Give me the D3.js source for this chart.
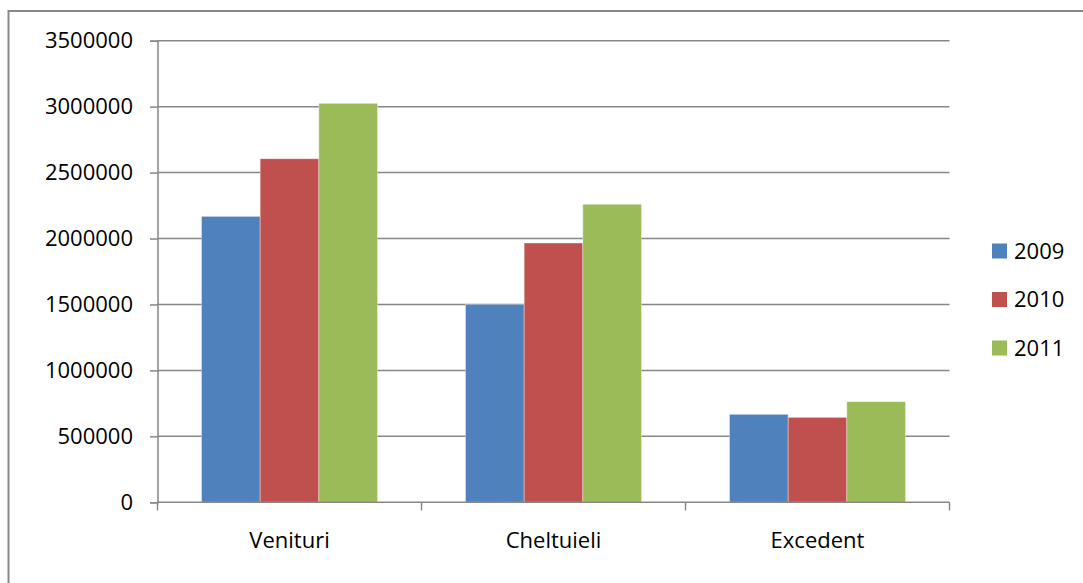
<!DOCTYPE html>
<html>
<head>
<meta charset="utf-8">
<script src="https://cdn.jsdelivr.net/npm/d3@7"></script>
<style>
    body { margin: 0; background: #fff; }
    text { font-family: 'Open Sans', sans-serif; font-size: 22px; fill: #000; }
</style>
</head>
<body>
<div class="chart-div"></div>
<script>
// date din grafic
const categories = ['Venituri', 'Cheltuieli', 'Excedent'];
const years = ['2009', '2010', '2011'];
const values2009 = [2168000, 1501000, 667000];
const values2010 = [2605000, 1966000, 644000];
const values2011 = [3025000, 2260000, 763000];
const yTicks = [0, 500000, 1000000, 1500000, 2000000, 2500000, 3000000, 3500000];
const colors = ['#4F81BD', '#C0504D', '#9BBB59'];

const chart = () => {

    let width = 1083, height = 583;
    let margin = {top: 40.7, right: 133.5, bottom: 80.7, left: 157.5};

    let svg = d3.select('.chart-div').append('svg')
        .attr('width', width)
        .attr('height', height);

    // chenar exterior (doar stanga si sus se vad)
    svg.append('path')
        .attr('d', 'M8.5,' + height + 'V11H' + width)
        .attr('fill', 'none')
        .attr('stroke', '#878787')
        .attr('stroke-width', 2);

    let series = [values2009, values2010, values2011];
    let data = categories.map((c, i) => ({
        category: c,
        values: years.map((y, j) => ({year: y, value: series[j][i], color: colors[j]}))
    }));

    let x0 = d3.scaleBand()
        .domain(categories)
        .range([margin.left, width - margin.right])
        .padding(0);

    let x1 = d3.scaleBand()
        .domain(years)
        .range([0, x0.bandwidth()])
        .paddingInner(0)
        .paddingOuter(0.75);

    let y = d3.scaleLinear()
        .domain([0, 3500000])
        .range([height - margin.bottom, margin.top]);

    // linii de grila
    svg.append('g')
        .selectAll('line')
        .data(yTicks.slice(1))
        .enter().append('line')
        .attr('x1', margin.left)
        .attr('x2', width - margin.right)
        .attr('y1', d => y(d))
        .attr('y2', d => y(d))
        .attr('stroke', '#878787')
        .attr('stroke-width', 1.5);

    // bare
    let groups = svg.selectAll('g.group')
        .data(data)
        .enter().append('g')
        .attr('class', 'group')
        .attr('transform', d => 'translate(' + x0(d.category) + ',0)');

    groups.selectAll('rect')
        .data(d => d.values)
        .enter().append('rect')
        .attr('x', d => x1(d.year))
        .attr('y', d => y(d.value))
        .attr('width', x1.bandwidth())
        .attr('height', d => y(0) - y(d.value))
        .attr('fill', d => d.color)
        .attr('stroke', 'rgba(255,255,255,0.45)')
        .attr('stroke-width', 0.8);

    // axa y
    let yAxis = svg.append('g')
        .attr('transform', 'translate(' + margin.left + ',0)')
        .call(d3.axisLeft(y).tickValues(yTicks).tickSize(7.5).tickPadding(17).tickFormat(d3.format('d')));
    yAxis.select('.domain').attr('stroke', '#878787').attr('stroke-width', 1.5);
    yAxis.selectAll('.tick line').attr('stroke', '#878787').attr('stroke-width', 1.5);
    yAxis.selectAll('.tick text')
        .style('font-family', 'Open Sans, sans-serif')
        .style('font-size', '22px')
        .attr('fill', '#000');

    // axa x
    let xAxis = svg.append('g')
        .attr('transform', 'translate(0,' + y(0) + ')')
        .call(d3.axisBottom(x0).tickSize(0).tickPadding(30));
    xAxis.select('.domain').remove();
    xAxis.append('line')
        .attr('x1', margin.left)
        .attr('x2', width - margin.right)
        .attr('stroke', '#878787')
        .attr('stroke-width', 1.5);
    xAxis.selectAll('line.sep')
        .data(d3.range(categories.length + 1))
        .enter().append('line')
        .attr('class', 'sep')
        .attr('x1', i => margin.left + x0.step() * i)
        .attr('x2', i => margin.left + x0.step() * i)
        .attr('y1', 0)
        .attr('y2', 8)
        .attr('stroke', '#878787')
        .attr('stroke-width', 1.5);
    xAxis.selectAll('.tick text')
        .style('font-family', 'Open Sans, sans-serif')
        .style('font-size', '22px')
        .attr('fill', '#000');

    // legenda
    let legend = svg.selectAll('g.legend')
        .data(years)
        .enter().append('g')
        .attr('class', 'legend')
        .attr('transform', (d, i) => 'translate(992,' + (251 + i * 48.5) + ')');

    legend.append('rect')
        .attr('x', 0)
        .attr('y', -7.5)
        .attr('width', 15)
        .attr('height', 15)
        .style('fill', (d, i) => colors[i]);

    legend.append('text')
        .attr('x', 22)
        .attr('y', 0)
        .attr('dy', '0.35em')
        .text(d => d);
}

chart();
</script>
</body>
</html>
